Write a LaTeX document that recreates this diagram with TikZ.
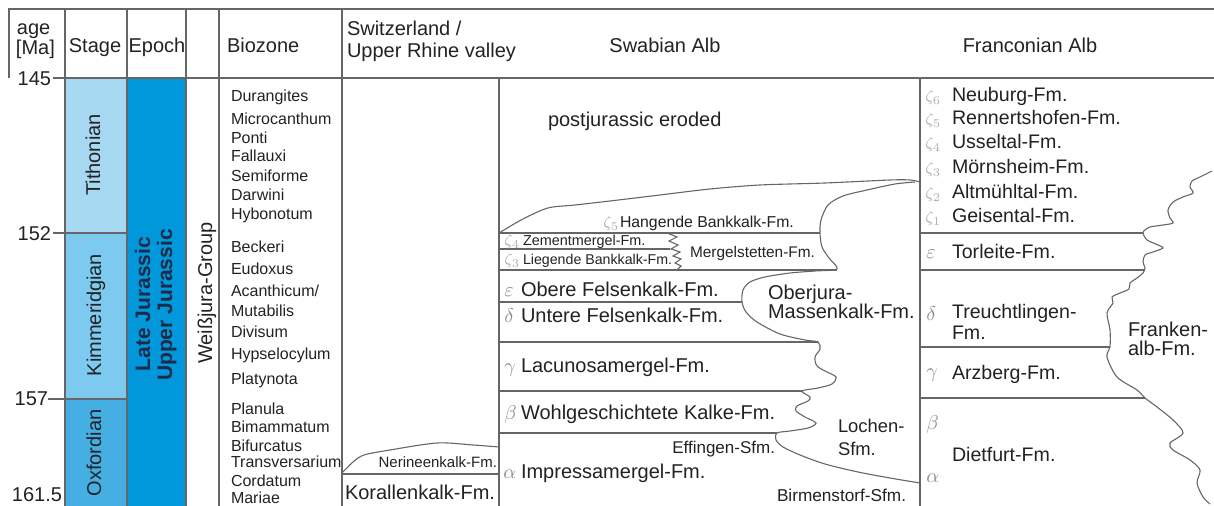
\documentclass[tikz,border=0pt]{standalone}
\usepackage{fontspec}
\setmainfont{Liberation Sans}
\definecolor{tith}{HTML}{A6D8F2}
\definecolor{kimm}{HTML}{7DCAF0}
\definecolor{oxf}{HTML}{45AEE2}
\definecolor{epochc}{HTML}{0098DB}
\definecolor{lncol}{HTML}{666666}
\definecolor{txtcol}{HTML}{222222}
\definecolor{grk}{HTML}{8C8C8C}
\definecolor{zet}{HTML}{B0B0B0}
\definecolor{epochtxt}{HTML}{1D2B4A}
\begin{document}
\begin{tikzpicture}[x=0.5pt,y=-0.5pt,
  ln/.style={draw=lncol, line width=0.55pt},
  tx/.style={inner sep=0pt, outer sep=0pt, text=txtcol},
  fa/.style={font=\fontsize{10}{12}\selectfont},
  fb/.style={font=\fontsize{8}{10}\selectfont},
  fr/.style={font=\fontsize{9.8}{12}\selectfont},
  gk/.style={inner sep=0pt, text=grk, font=\fontsize{10}{12}\selectfont},
  zk/.style={inner sep=0pt, text=zet, font=\fontsize{8}{10}\selectfont},
  rot/.style={rotate=90, anchor=base}]
\useasboundingbox (0,0) rectangle (1214,506);
% fills
\fill[tith] (65,78) rectangle (127,233);
\fill[kimm] (65,233) rectangle (127,399);
\fill[oxf] (65,399) rectangle (127,506);
\fill[epochc] (127,78) rectangle (186,506);
% frame lines
\draw[ln] (9,78) -- (9,9) -- (1214,9);
\draw[ln] (53,78) -- (1214,78);
\draw[ln] (53,233) -- (127,233);
\draw[ln] (48,399) -- (127,399);
\foreach \xx in {65,127,186,219,342} \draw[ln] (\xx,9) -- (\xx,506);
\foreach \xx in {499,920} \draw[ln] (\xx,78) -- (\xx,506);
% Switzerland column
\draw[ln] (342,474) -- (499,474);
\draw[ln] plot[smooth, tension=0.5] coordinates {(342,473) (353,462) (364,455) (390,450) (437,443) (473,445) (499,447)};
% Swabian column
\draw[ln] plot[smooth, tension=0.5] coordinates {(499,233) (523,219) (548,208) (575,205) (610,201) (660,195) (710,189) (760,185) (825,183) (890,180) (910,180) (920,182)};
\draw[ln] plot[smooth, tension=0.5] coordinates {(915,182) (895,184) (867,190) (843,196) (828,205) (821,220) (820,233) (822,247) (829,258) (837,269) (815,271) (790,273) (765,277) (750,282) (743,290) (742,302) (746,312) (757,322) (780,334) (805,340) (818,342) (820,349) (815,357) (817,366) (827,372) (836,377) (832,384) (818,388) (802,391) (810,397) (808,401) (797,406) (796,411) (805,417) (816,423) (808,428) (790,431) (777,433) (776,440) (783,447) (800,455) (825,464) (858,472) (890,478) (920,483)};
\draw[ln] (499,233) -- (820,233);
\draw[ln] (499,249) -- (670,249);
\draw[ln] (499,270) -- (837,270);
\draw[ln] (499,302) -- (742,302);
\draw[ln] (499,342) -- (818,342);
\draw[ln] (499,391) -- (802,391);
\draw[ln] (499,433) -- (777,433);
\draw[ln] (667,233) -- (677,237) -- (669,241) -- (678,245) -- (671,249) -- (680,252) -- (673,256) -- (681,259) -- (675,263) -- (681,266) -- (677,270);
% Franconian column
\draw[ln] plot[smooth, tension=0.5] coordinates {(1212,171) (1200,177) (1192,181) (1190,187) (1193,193) (1183,197) (1173,202) (1168,210) (1170,218) (1173,223) (1163,225) (1150,227) (1145,230) (1143,233) (1147,240) (1158,245) (1163,248) (1153,252) (1145,255) (1143,262) (1145,268) (1143,273) (1137,278) (1130,283) (1129,289) (1120,293) (1112,297) (1113,303) (1107,313) (1110,330) (1110,347) (1107,357) (1117,377) (1137,390) (1145,398) (1157,407) (1173,420) (1183,433) (1170,443) (1173,450) (1190,460) (1200,470) (1197,483) (1203,497) (1210,504)};
\draw[ln] (920,233) -- (1143,233);
\draw[ln] (920,270) -- (1145,270);
\draw[ln] (920,347) -- (1110,347);
\draw[ln] (920,398) -- (1145,398);
% headers
\node[tx,fa,anchor=base west] (hage) at (17,35) {age};
\node[tx,fa,anchor=base west] (hma) at (16,55) {[Ma]};
\node[tx,fa,anchor=base] (hstage) at (95,53) {Stage};
\node[tx,fa,anchor=base] (hepoch) at (157,53) {Epoch};
\node[tx,fa,anchor=base west] (hbio) at (227,53) {Biozone};
\node[tx,fa,anchor=base west] (hsw1) at (347,36) {Switzerland /};
\node[tx,fa,anchor=base west] (hsw2) at (347,58) {Upper Rhine valley};
\node[tx,fa,anchor=base] (hswab) at (665,53) {Swabian Alb};
\node[tx,fa,anchor=base] (hfr) at (1030,53) {Franconian Alb};
% ages
\node[tx,fa,anchor=base east] (a145) at (51,86) {145};
\node[tx,fa,anchor=base east] (a152) at (51,241) {152};
\node[tx,fa,anchor=base east] (a157) at (48,406) {157};
\node[tx,fa,anchor=base east] (a161) at (62,502) {161.5};
% stages and epoch
\node[tx,fa,rot] (stT) at (100,155) {Tithonian};
\node[tx,fa,rot] (stK) at (101,315) {Kimmeridgian};
\node[tx,fa,rot] (stO) at (101,453) {Oxfordian};
\node[inner sep=0pt, text=epochtxt, font=\fontsize{10.5}{12}\selectfont\bfseries, rot] (ep1) at (150,304) {Late Jurassic};
\node[inner sep=0pt, text=epochtxt, font=\fontsize{10.5}{12}\selectfont\bfseries, rot] (ep2) at (172,305) {Upper Jurassic};
\node[tx,fa,rot] (wg) at (212,293) {Weißjura-Group};
% biozones
\node[tx,fb,anchor=base west] (b1) at (231,101.5) {Durangites};
\node[tx,fb,anchor=base west] (b2) at (231,124.5) {Microcanthum};
\node[tx,fb,anchor=base west] (b3) at (231,143.5) {Ponti};
\node[tx,fb,anchor=base west] (b4) at (231,162) {Fallauxi};
\node[tx,fb,anchor=base west] (b5) at (231,181.5) {Semiforme};
\node[tx,fb,anchor=base west] (b6) at (231,201) {Darwini};
\node[tx,fb,anchor=base west] (b7) at (231,220) {Hybonotum};
\node[tx,fb,anchor=base west] (b8) at (231,253) {Beckeri};
\node[tx,fb,anchor=base west] (b9) at (231,275) {Eudoxus};
\node[tx,fb,anchor=base west] (b10) at (231,297) {Acanthicum/};
\node[tx,fb,anchor=base west] (b11) at (231,317) {Mutabilis};
\node[tx,fb,anchor=base west] (b12) at (231,338) {Divisum};
\node[tx,fb,anchor=base west] (b13) at (231,360) {Hypselocylum};
\node[tx,fb,anchor=base west] (b14) at (231,385) {Platynota};
\node[tx,fb,anchor=base west] (b15) at (231,415) {Planula};
\node[tx,fb,anchor=base west] (b16) at (231,433) {Bimammatum};
\node[tx,fb,anchor=base west] (b17) at (231,452) {Bifurcatus};
\node[tx,fb,anchor=base west] (b18) at (231,468) {Transversarium};
\node[tx,fb,anchor=base west] (b19) at (231,487) {Cordatum};
\node[tx,fb,anchor=base west] (b20) at (231,504) {Mariae};
% Switzerland
\node[tx,font=\fontsize{7.5}{9}\selectfont,anchor=base east] (ner) at (497,468) {Nerineenkalk-Fm.};
\node[tx,fa,anchor=base west] (kor) at (345,500) {Korallenkalk-Fm.};
% Swabian
\node[tx,fa,anchor=base west] (pje) at (548,127) {postjurassic eroded};
\node[zk,anchor=base west] (z5s) at (603,228) {$\zeta_5$};
\node[tx,font=\fontsize{7.9}{9}\selectfont,anchor=base west] (hang) at (620,228) {Hangende Bankkalk-Fm.};
\node[zk,anchor=base west] (z4s) at (504,246) {$\zeta_4$};
\node[tx,font=\fontsize{7.2}{9}\selectfont,anchor=base west] (zem) at (523,246) {Zementmergel-Fm.};
\node[zk,anchor=base west] (z3s) at (504,265) {$\zeta_3$};
\node[tx,font=\fontsize{7.1}{9}\selectfont,anchor=base west] (lieg) at (523,265) {Liegende Bankkalk-Fm.};
\node[tx,font=\fontsize{7.7}{9}\selectfont,anchor=base west] (merg) at (690,258) {Mergelstetten-Fm.};
\node[gk,anchor=base west] (gEs) at (504,297) {$\varepsilon$};
\node[tx,fa,anchor=base west] (obf) at (521,297) {Obere Felsenkalk-Fm.};
\node[gk,anchor=base west] (gDs) at (504,323) {$\delta$};
\node[tx,fa,anchor=base west] (unf) at (521,323) {Untere Felsenkalk-Fm.};
\node[gk,anchor=base west] (gGs) at (504,373) {$\gamma$};
\node[tx,fa,anchor=base west] (lac) at (521,373) {Lacunosamergel-Fm.};
\node[gk,anchor=base west] (gBs) at (504,420) {$\beta$};
\node[tx,fa,anchor=base west] (wohl) at (521,420) {Wohlgeschichtete Kalke-Fm.};
\node[tx,font=\fontsize{8.5}{10}\selectfont,anchor=base east] (eff) at (775,454) {Effingen-Sfm.};
\node[gk,anchor=base west] (gAs) at (503,479) {$\alpha$};
\node[tx,fa,anchor=base west] (imp) at (521,479) {Impressamergel-Fm.};
\node[tx,font=\fontsize{8.6}{10}\selectfont,anchor=base west] (birm) at (777,502) {Birmenstorf-Sfm.};
\node[tx,fa,anchor=base west] (obj) at (768,300) {Oberjura-};
\node[tx,fa,anchor=base west] (mass) at (768,319) {Massenkalk-Fm.};
\node[tx,font=\fontsize{9.2}{11}\selectfont,anchor=base west] (loc1) at (838,433) {Lochen-};
\node[tx,font=\fontsize{9.2}{11}\selectfont,anchor=base west] (loc2) at (838,456) {Sfm.};
% Franconian
\node[zk,anchor=base west] (z6f) at (925,102) {$\zeta_6$};
\node[tx,fr,anchor=base west] (neu) at (952,102) {Neuburg-Fm.};
\node[zk,anchor=base west] (z5f) at (925,125) {$\zeta_5$};
\node[tx,fr,anchor=base west] (ren) at (952,125) {Rennertshofen-Fm.};
\node[zk,anchor=base west] (z4f) at (925,149) {$\zeta_4$};
\node[tx,fr,anchor=base west] (uss) at (952,149) {Usseltal-Fm.};
\node[zk,anchor=base west] (z3f) at (925,174) {$\zeta_3$};
\node[tx,fr,anchor=base west] (moe) at (952,174) {Mörnsheim-Fm.};
\node[zk,anchor=base west] (z2f) at (925,199) {$\zeta_2$};
\node[tx,fr,anchor=base west] (alt) at (952,199) {Altmühltal-Fm.};
\node[zk,anchor=base west] (z1f) at (925,223) {$\zeta_1$};
\node[tx,fr,anchor=base west] (gei) at (952,223) {Geisental-Fm.};
\node[gk,anchor=base west] (gEf) at (926,259) {$\varepsilon$};
\node[tx,fr,anchor=base west] (tor) at (952,259) {Torleite-Fm.};
\node[gk,anchor=base west] (gDf) at (926,321) {$\delta$};
\node[tx,fr,anchor=base west] (tr1) at (952,319) {Treuchtlingen-};
\node[tx,fr,anchor=base west] (tr2) at (952,340) {Fm.};
\node[gk,anchor=base west] (gGf) at (926,378) {$\gamma$};
\node[tx,fr,anchor=base west] (arz) at (952,380) {Arzberg-Fm.};
\node[gk,anchor=base west] (gBf) at (926,430) {$\beta$};
\node[tx,fr,anchor=base west] (die) at (952,462) {Dietfurt-Fm.};
\node[gk,anchor=base west] (gAf) at (926,483) {$\alpha$};
\node[tx,fa,anchor=base west] (fr1) at (1128,337) {Franken-};
\node[tx,fa,anchor=base west] (fr2) at (1128,356) {alb-Fm.};
\end{tikzpicture}
\end{document}
